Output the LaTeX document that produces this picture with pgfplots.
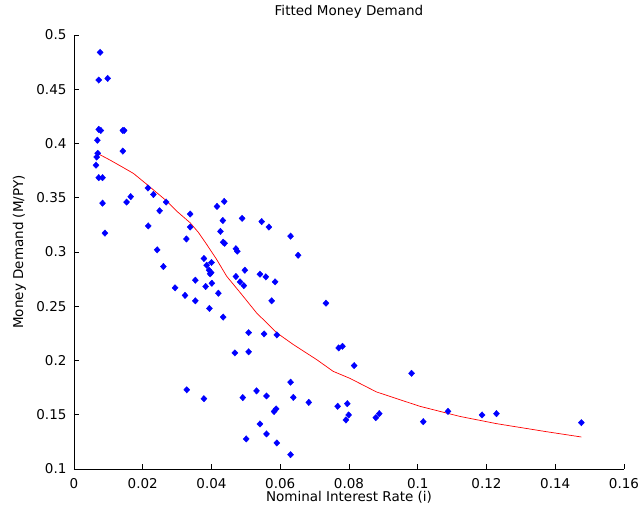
\documentclass[border=0pt]{standalone}
\usepackage{pgfplots}
\pgfplotsset{compat=1.18}
\usepackage{fontspec}
\setmainfont{DejaVu Sans}

\newcommand{\chartfont}{\fontsize{13.5}{16}\selectfont}

\begin{document}
\begin{tikzpicture}
\begin{axis}[
    at={(0,0)}, anchor=south west,
    scale only axis,
    width=550pt, height=434pt,
    xmin=0, xmax=0.16,
    ymin=0.1, ymax=0.5,
    axis lines*=left,
    axis line style={line width=0.8pt},
    tick align=inside,
    major tick length=5pt,
    tick style={line width=0.8pt, black},
    xtick={0,0.02,0.04,0.06,0.08,0.1,0.12,0.14,0.16},
    ytick={0.1,0.15,0.2,0.25,0.3,0.35,0.4,0.45,0.5},
    scaled x ticks=false, scaled y ticks=false,
    /pgf/number format/assume math mode=true,
    xticklabel style={/pgf/number format/fixed, /pgf/number format/precision=2,
        font=\chartfont, anchor=base, yshift=-20pt},
    yticklabel style={/pgf/number format/fixed, /pgf/number format/precision=2,
        font=\chartfont, xshift=-4pt},
    title={Fitted Money Demand},
    title style={font=\chartfont, at={(axis description cs:0.5,1.032)}, anchor=base},
    xlabel={Nominal Interest Rate (i)},
    xlabel style={font=\chartfont, at={(axis description cs:0.5,-0.0755)}, anchor=base},
    ylabel={Money Demand (M/PY)},
    ylabel style={font=\chartfont, at={(axis description cs:-0.0927,0.5)}, anchor=base},
]
% observed data
\addplot[only marks, mark=diamond*, mark size=3.2pt, mark options={xscale=1.25}, color=blue] table {
x y
0.0076 0.484
0.0072 0.4585
0.0098 0.460
0.0072 0.413
0.0078 0.412
0.0068 0.403
0.0069 0.391
0.0066 0.3875
0.0064 0.380
0.0072 0.3685
0.0083 0.3685
0.0083 0.345
0.0090 0.3174
0.0142 0.412
0.0146 0.412
0.0142 0.393
0.0153 0.346
0.0165 0.351
0.0215 0.359
0.0231 0.353
0.0268 0.346
0.0216 0.324
0.0249 0.338
0.0338 0.335
0.0338 0.323
0.0327 0.312
0.0242 0.302
0.0416 0.342
0.0437 0.3466
0.0433 0.329
0.0426 0.319
0.0434 0.309
0.0438 0.308
0.0489 0.331
0.0546 0.328
0.0567 0.323
0.0630 0.3146
0.0652 0.297
0.0471 0.303
0.0475 0.3007
0.0260 0.2866
0.0378 0.294
0.0386 0.2878
0.0400 0.2903
0.0393 0.2832
0.0396 0.2799
0.0399 0.2810
0.0383 0.2682
0.0401 0.2712
0.0353 0.274
0.0294 0.267
0.0323 0.260
0.0353 0.255
0.0420 0.262
0.0394 0.248
0.0434 0.240
0.0497 0.2832
0.0471 0.2774
0.0483 0.2725
0.0494 0.269
0.0541 0.2795
0.0558 0.2771
0.0585 0.2725
0.0575 0.255
0.0733 0.2528
0.0508 0.2257
0.0553 0.2245
0.0590 0.2236
0.0468 0.207
0.0508 0.208
0.0770 0.2116
0.0781 0.2131
0.0328 0.173
0.0378 0.1648
0.0491 0.1658
0.0531 0.172
0.0560 0.1673
0.0630 0.180
0.0638 0.166
0.0683 0.1614
0.0582 0.153
0.0588 0.1554
0.0541 0.1415
0.0560 0.1323
0.0501 0.1277
0.0590 0.124
0.0630 0.1132
0.0767 0.1578
0.0795 0.1602
0.0799 0.1498
0.0791 0.1452
0.0815 0.1953
0.0982 0.1882
0.0878 0.1473
0.0888 0.151
0.1016 0.1436
0.1088 0.1531
0.1187 0.1498
0.1229 0.151
0.1476 0.1427
};
% fitted curve
\addplot[color=red, line width=0.7pt, no marks] table {
x y
0.0068 0.3909
0.0105 0.3847
0.0144 0.3777
0.0173 0.3724
0.0212 0.3623
0.0241 0.3546
0.0270 0.3469
0.0299 0.3376
0.0338 0.3269
0.0362 0.3180
0.0386 0.3070
0.0415 0.2931
0.0444 0.2777
0.0488 0.2608
0.0531 0.2439
0.0590 0.2255
0.0638 0.2147
0.0706 0.2008
0.0754 0.1900
0.0803 0.1835
0.0880 0.1710
0.1006 0.1578
0.1122 0.1485
0.1229 0.1418
0.1374 0.1344
0.1476 0.1295
};
\end{axis}
\pgfresetboundingbox
\useasboundingbox (-74pt,-47pt) rectangle (569pt,469pt);
\end{tikzpicture}
\end{document}
